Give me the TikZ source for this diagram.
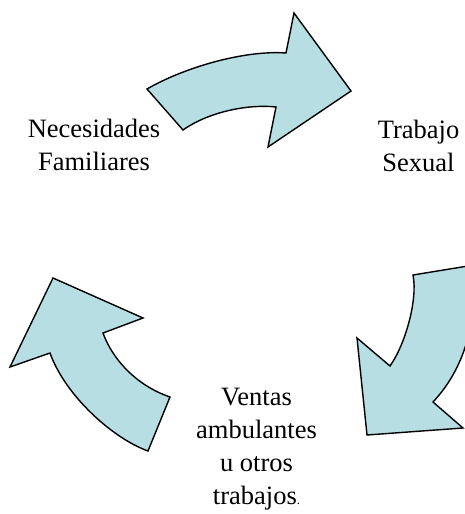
\documentclass[tikz,border=0pt]{standalone}
\usepackage{fontspec}
\setmainfont{Liberation Serif}
\usepackage{tikz}
\definecolor{arrowfill}{RGB}{183,222,226}

\begin{document}
\begin{tikzpicture}[x=1pt,y=-1pt,
	cyclearrow/.style={draw=black, line width=1.4pt, fill=arrowfill, line join=miter},
	cyclelabel/.style={align=center, inner sep=0pt, font=\fontsize{26.5}{33}\selectfont}]
	%frame
	\useasboundingbox (0,0) rectangle (465,514);
	\clip (0,0) rectangle (465,514);
	%top arrow
	\draw[cyclearrow] (147,89) .. controls (185,67) and (245,50) .. (286,53)
		-- (294,13) -- (351,91) -- (268,147) -- (276,107)
		.. controls (250,104) and (210,111) .. (183,130) -- cycle;
	%right arrow
	\draw[cyclearrow] (413,275) -- (468,266)
		.. controls (480,310) and (468,365) .. (433,402)
		-- (463,428) -- (367,435) -- (357,338) -- (390,366)
		.. controls (405,345) and (418,300) .. (413,275) -- cycle;
	%left arrow
	\draw[cyclearrow] (170,397) -- (148,451)
		.. controls (112,438) and (65,395) .. (50,353)
		-- (10,367) -- (53,278) -- (143,318) -- (103,333)
		.. controls (112,358) and (135,385) .. (170,397) -- cycle;
	%labels
	\node[cyclelabel] (necesidades) at (94,145) {Necesidades\\Familiares};
	\node[cyclelabel] (trabajo) at (418.5,146) {Trabajo\\Sexual};
	\node[cyclelabel] (ventas) at (256.5,449) {Ventas\\ambulantes\\u otros\\trabajos{\fontsize{13}{13}\selectfont .}};
\end{tikzpicture}
\end{document}
